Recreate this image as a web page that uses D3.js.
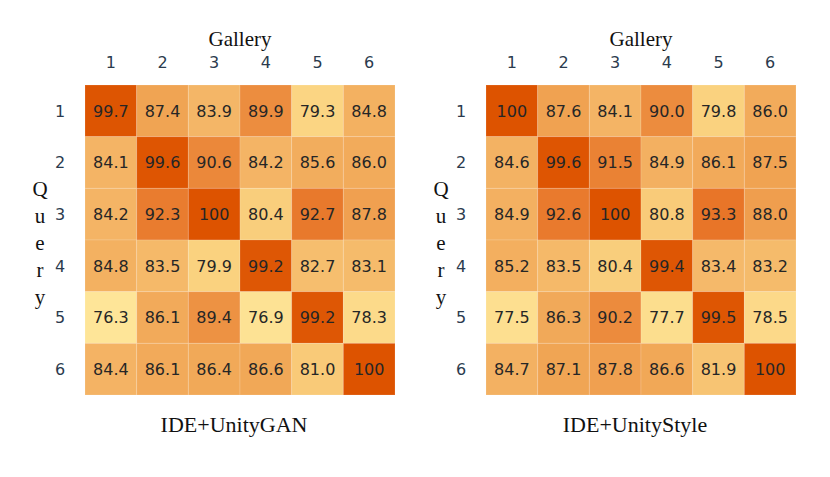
<!DOCTYPE html>
<html>
<head>
<meta charset="utf-8">
<script src="https://cdn.jsdelivr.net/npm/d3@7"></script>
<style>
  body { margin: 0; background: #fff; }
  svg { display: block; }
</style>
</head>
<body>
<svg id="chart" width="830" height="477"></svg>
<script>
const labels = ["1", "2", "3", "4", "5", "6"];
const titles = ["IDE+UnityGAN", "IDE+UnityStyle"];
const ganValues = [
  [99.7, 87.4, 83.9, 89.9, 79.3, 84.8],
  [84.1, 99.6, 90.6, 84.2, 85.6, 86.0],
  [84.2, 92.3, 100, 80.4, 92.7, 87.8],
  [84.8, 83.5, 79.9, 99.2, 82.7, 83.1],
  [76.3, 86.1, 89.4, 76.9, 99.2, 78.3],
  [84.4, 86.1, 86.4, 86.6, 81.0, 100]
];
const styleValues = [
  [100, 87.6, 84.1, 90.0, 79.8, 86.0],
  [84.6, 99.6, 91.5, 84.9, 86.1, 87.5],
  [84.9, 92.6, 100, 80.8, 93.3, 88.0],
  [85.2, 83.5, 80.4, 99.4, 83.4, 83.2],
  [77.5, 86.3, 90.2, 77.7, 99.5, 78.5],
  [84.7, 87.1, 87.8, 86.6, 81.9, 100]
];

const color = d3.scaleLinear()
  .domain([76, 80, 84, 87.5, 90, 93, 100])
  .range(["#fee79a", "#fad17e", "#f4b566", "#f0a352", "#ec8c3e", "#e8772a", "#dd5300"])
  .clamp(true);

const svg = d3.select("#chart");

function drawMatrix(values, title, left) {
  let top = 85;
  let size = 310;

  let x = d3.scaleBand().domain(labels).range([left, left + size]);
  let y = d3.scaleBand().domain(labels).range([top, top + size]);

  let g = svg.append("g");

  let cells = [];
  values.forEach((row, i) => row.forEach((v, j) => cells.push({ r: labels[i], c: labels[j], v: v })));

  g.selectAll(".cell")
    .data(cells)
    .enter().append("rect")
    .attr("class", "cell")
    .attr("x", d => x(d.c))
    .attr("y", d => y(d.r))
    .attr("width", x.bandwidth())
    .attr("height", y.bandwidth())
    .attr("fill", d => color(d.v))
    .attr("stroke", "#ffffff")
    .attr("stroke-opacity", 0.15)
    .attr("stroke-width", 1);

  g.selectAll(".val")
    .data(cells)
    .enter().append("text")
    .attr("x", d => x(d.c) + x.bandwidth() / 2)
    .attr("y", d => y(d.r) + y.bandwidth() / 2)
    .attr("dy", "0.36em")
    .attr("text-anchor", "middle")
    .attr("font-family", "DejaVu Sans, sans-serif")
    .attr("font-size", "16px")
    .attr("fill", "#262626")
    .text(d => d.v === 100 ? "100" : d.v.toFixed(1));

  // column ticks
  g.selectAll(".colLab")
    .data(labels)
    .enter().append("text")
    .attr("x", d => x(d) + x.bandwidth() / 2)
    .attr("y", 62)
    .attr("dy", "0.36em")
    .attr("text-anchor", "middle")
    .attr("font-family", "DejaVu Sans, sans-serif")
    .attr("font-size", "16px")
    .attr("fill", "#2b3b4e")
    .text(d => d);

  // row ticks
  g.selectAll(".rowLab")
    .data(labels)
    .enter().append("text")
    .attr("x", left - 25)
    .attr("y", d => y(d) + y.bandwidth() / 2)
    .attr("dy", "0.36em")
    .attr("text-anchor", "middle")
    .attr("font-family", "DejaVu Sans, sans-serif")
    .attr("font-size", "16px")
    .attr("fill", "#2b3b4e")
    .text(d => d);

  g.append("text")
    .attr("x", left + size / 2)
    .attr("y", 46)
    .attr("text-anchor", "middle")
    .attr("font-family", "Liberation Serif, serif")
    .attr("font-size", "21px")
    .attr("fill", "#111")
    .text("Gallery");

  // vertical "Query", one letter per line
  g.selectAll(".q")
    .data("Query".split(""))
    .enter().append("text")
    .attr("x", left - 45)
    .attr("y", (d, i) => 196 + i * 27)
    .attr("text-anchor", "middle")
    .attr("font-family", "Liberation Serif, serif")
    .attr("font-size", "21px")
    .attr("fill", "#111")
    .text(d => d);

  g.append("text")
    .attr("x", left + size / 2 - 6)
    .attr("y", 432)
    .attr("text-anchor", "middle")
    .attr("font-family", "Liberation Serif, serif")
    .attr("font-size", "22px")
    .attr("fill", "#111")
    .text(title);
}

drawMatrix(ganValues, titles[0], 85);
drawMatrix(styleValues, titles[1], 486);
</script>
</body>
</html>
